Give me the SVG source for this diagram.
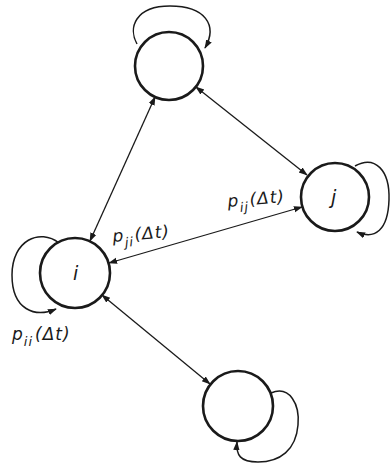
<svg xmlns="http://www.w3.org/2000/svg" width="392" height="470" viewBox="0 0 392 470">
<defs>
<marker id="ah" viewBox="0 0 10 10" refX="9" refY="5" markerWidth="9" markerHeight="9" markerUnits="userSpaceOnUse" orient="auto-start-reverse">
<path d="M0,1.5 L10,5 L0,8.5 Z" fill="#1a1a1a"/>
</marker>
</defs>
<style>
.node{fill:#fff;stroke:#1a1a1a;stroke-width:2.6}
.edge{fill:none;stroke:#1a1a1a;stroke-width:1.3}
.loop{fill:none;stroke:#1a1a1a;stroke-width:1.5}
.lbl{font-family:"DejaVu Sans","Liberation Sans",sans-serif;font-style:italic;font-size:17px;letter-spacing:1px;fill:#1a1a1a}
.nl{font-family:"DejaVu Sans","Liberation Sans",sans-serif;font-style:italic;font-size:19px;fill:#1a1a1a}
</style>
<rect width="392" height="470" fill="#fff"/>
<g id="connectors">
<line class="edge" x1="155" y1="97" x2="90" y2="241" marker-start="url(#ah)" marker-end="url(#ah)"/>
<line class="edge" x1="196" y1="87" x2="307" y2="175" marker-start="url(#ah)" marker-end="url(#ah)"/>
<line class="edge" x1="109" y1="263" x2="302" y2="207" marker-start="url(#ah)" marker-end="url(#ah)"/>
<line class="edge" x1="102" y1="295" x2="210" y2="384" marker-start="url(#ah)" marker-end="url(#ah)"/>
<path class="loop" d="M137,44 C128,28 135,6 170,6 C205,6 218,25 205,48" marker-end="url(#ah)"/>
<path class="loop" d="M355,166 C375,155 390,170 389,200 C388,230 375,240 357,232" marker-end="url(#ah)"/>
<path class="loop" d="M59,243 C40,228 12,240 12,275 C12,310 35,318 56,309" marker-end="url(#ah)"/>
<path class="loop" d="M271,393 C290,385 300,405 298,425 C296,450 280,462 258,462 C240,462 236,455 237,442" marker-end="url(#ah)"/>
</g>
<g id="node-top"><circle class="node" cx="169" cy="66" r="34"/></g>
<g id="node-j"><circle class="node" cx="335" cy="197" r="34"/><text class="nl" x="331" y="204">j</text></g>
<g id="node-i"><circle class="node" cx="75" cy="273" r="35"/><text class="nl" x="73" y="280">i</text></g>
<g id="node-bottom"><circle class="node" cx="238" cy="406" r="35"/></g>
<g id="labels">
<text class="lbl" transform="translate(113,242) rotate(-5)">p<tspan dy="6" font-size="13">ji</tspan><tspan dy="-6" dx="1">(Δt)</tspan></text>
<text class="lbl" transform="translate(228,207) rotate(-5)">p<tspan dy="6" font-size="13">ij</tspan><tspan dy="-6" dx="1">(Δt)</tspan></text>
<text class="lbl" x="12" y="340">p<tspan dy="6" font-size="13">ii</tspan><tspan dy="-6" dx="2">(Δt)</tspan></text>
</g>
</svg>
